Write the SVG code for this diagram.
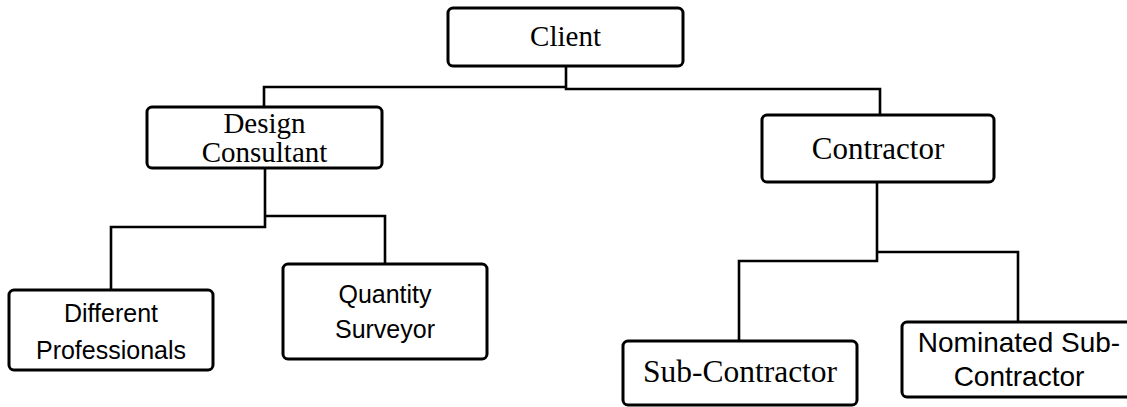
<svg xmlns="http://www.w3.org/2000/svg" width="1127" height="407" viewBox="0 0 1127 407">
<style>
.box{fill:#fff;stroke:#000;stroke-width:3}
.con{fill:none;stroke:#000;stroke-width:2.6}
.serif{font-family:"Liberation Serif","Times New Roman",serif;fill:#000;text-anchor:middle}
.sans{font-family:"Liberation Sans",Arial,sans-serif;fill:#000;text-anchor:middle}
</style>
<rect width="1127" height="407" fill="#fff"/>
<g id="connectors">
<path class="con" d="M566,66 V89 H880 V115"/>
<path class="con" d="M566,87 H264 V107"/>
<path class="con" d="M265,168 V227 H111 V290"/>
<path class="con" d="M265,216 H385 V264"/>
<path class="con" d="M877,182 V261 H739 V341"/>
<path class="con" d="M877,252 H1018 V322"/>
</g>
<g id="client">
<rect class="box" x="448" y="8" width="235" height="58" rx="5"/>
<text class="serif" x="565.5" y="46" font-size="29">Client</text>
</g>
<g id="design-consultant">
<rect class="box" x="147" y="107" width="235" height="61" rx="5"/>
<text class="serif" x="264.5" y="133" font-size="29">Design</text>
<text class="serif" x="264.5" y="162" font-size="29">Consultant</text>
</g>
<g id="contractor">
<rect class="box" x="762" y="115" width="232" height="67" rx="5"/>
<text class="serif" x="878" y="159" font-size="31">Contractor</text>
</g>
<g id="different-professionals">
<rect class="box" x="9" y="290" width="204" height="80" rx="5"/>
<text class="sans" x="111" y="322" font-size="25">Different</text>
<text class="sans" x="111" y="359" font-size="25">Professionals</text>
</g>
<g id="quantity-surveyor">
<rect class="box" x="283" y="264" width="204" height="95" rx="5"/>
<text class="sans" x="385" y="303" font-size="25">Quantity</text>
<text class="sans" x="385" y="338" font-size="25">Surveyor</text>
</g>
<g id="sub-contractor">
<rect class="box" x="623" y="341" width="234" height="64" rx="5"/>
<text class="serif" x="740" y="382" font-size="31.5">Sub-Contractor</text>
</g>
<g id="nominated-sub-contractor">
<rect class="box" x="902" y="322" width="240" height="75" rx="5"/>
<text class="sans" x="1019" y="352" font-size="28">Nominated Sub-</text>
<text class="sans" x="1019" y="386" font-size="28">Contractor</text>
</g>
</svg>
